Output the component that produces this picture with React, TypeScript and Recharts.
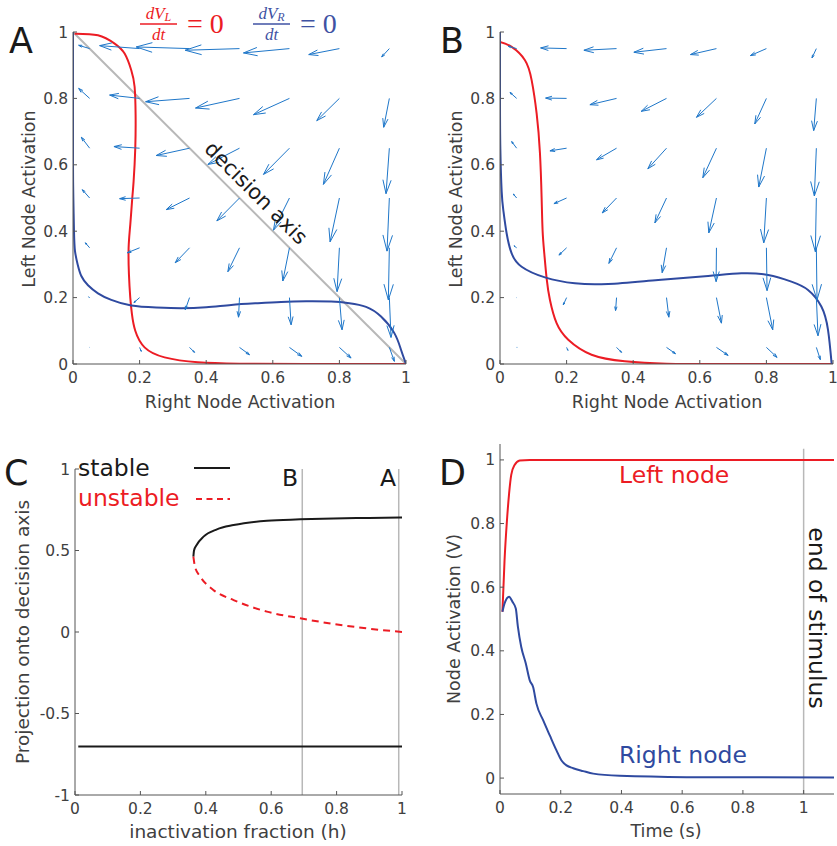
import React from "react";
import { ComposedChart, Line, ReferenceLine, Scatter, XAxis, YAxis } from "recharts";

const RED = "#ec1c24";
const BLUE = "#2f4aa0";
const QUIVER = "#1f77c9";
const GREY = "#b8b8b8";
const AXIS = "#555555";
const TICK = "#404040";
const INK = "#1a1a1a";
const FONT = "DejaVu Sans";

// ---- data ----
const UNIT_TICKS = [0, 0.2, 0.4, 0.6, 0.8, 1];
const C_Y_TICKS = [-1, -0.5, 0, 0.5, 1];

// quiver grid: columns (right node) and rows (left node, top to bottom)
const QUIVER_COLS = [0.05, 0.2, 0.35, 0.5, 0.65, 0.8, 0.95];
const QUIVER_ROWS = [0.95, 0.8, 0.65, 0.5, 0.35, 0.2, 0.05];

const A_U = [
  [-0.033, -0.12, -0.16, -0.163, -0.138, -0.092, -0.023],
  [-0.033, -0.09, -0.132, -0.132, -0.108, -0.068, -0.017],
  [-0.025, -0.077, -0.1, -0.095, -0.078, -0.048, -0.01],
  [-0.022, -0.06, -0.07, -0.068, -0.048, -0.028, -0.007],
  [-0.013, -0.037, -0.043, -0.035, -0.02, -0.007, -0.003],
  [-0.003, -0.017, -0.013, -0.003, 0.005, 0.008, 0.005],
  [0.001, 0.005, 0.015, 0.03, 0.037, 0.035, 0.015],
];
const A_V = [
  [0.01, 0.009, 0.005, -0.005, -0.013, -0.018, -0.025],
  [0.03, 0.01, -0.01, -0.029, -0.049, -0.067, -0.087],
  [0.033, 0.005, -0.022, -0.049, -0.079, -0.109, -0.137],
  [0.025, -0.002, -0.035, -0.069, -0.097, -0.132, -0.16],
  [0.015, -0.015, -0.045, -0.072, -0.1, -0.132, -0.157],
  [0.002, -0.015, -0.037, -0.059, -0.082, -0.097, -0.12],
  [0.0, -0.012, -0.015, -0.022, -0.027, -0.032, -0.042],
];

const B_U = [
  [-0.025, -0.078, -0.098, -0.098, -0.078, -0.048, -0.013],
  [-0.02, -0.063, -0.08, -0.076, -0.06, -0.035, -0.008],
  [-0.015, -0.05, -0.06, -0.056, -0.041, -0.023, -0.006],
  [-0.01, -0.038, -0.043, -0.035, -0.023, -0.008, -0.003],
  [-0.008, -0.023, -0.023, -0.013, -0.001, 0.002, 0.002],
  [0.001, -0.01, -0.003, 0.007, 0.015, 0.019, 0.005],
  [0.002, 0.004, 0.015, 0.027, 0.035, 0.032, 0.012],
];
const B_V = [
  [0.007, 0.002, -0.005, -0.011, -0.018, -0.021, -0.028],
  [0.018, 0.001, -0.019, -0.039, -0.057, -0.077, -0.097],
  [0.02, -0.008, -0.035, -0.062, -0.089, -0.117, -0.144],
  [0.012, -0.017, -0.045, -0.075, -0.105, -0.135, -0.162],
  [0.006, -0.022, -0.047, -0.075, -0.102, -0.129, -0.157],
  [0.0, -0.022, -0.039, -0.059, -0.077, -0.097, -0.115],
  [0.0, -0.009, -0.015, -0.019, -0.024, -0.03, -0.037],
];

// nullclines [right, left]
const A_RED_NULLCLINE = [
  [0.005, 0.995], [0.075, 0.99], [0.125, 0.965], [0.155, 0.935], [0.175, 0.885],
  [0.185, 0.835], [0.188, 0.75], [0.187, 0.65], [0.182, 0.55], [0.178, 0.5],
  [0.172, 0.42], [0.167, 0.35], [0.168, 0.27], [0.172, 0.2], [0.177, 0.15],
  [0.187, 0.1], [0.215, 0.05], [0.275, 0.02], [0.375, 0.005], [0.5, 0.001],
  [0.7, 0], [1, 0],
];
const A_BLUE_NULLCLINE = [
  [0, 1], [0, 0.8], [0, 0.6], [0.001, 0.5], [0.003, 0.4], [0.006, 0.34],
  [0.014, 0.3], [0.025, 0.265], [0.045, 0.237], [0.075, 0.213], [0.115, 0.193],
  [0.175, 0.176], [0.25, 0.17], [0.325, 0.168], [0.4, 0.171], [0.475, 0.178],
  [0.55, 0.183], [0.625, 0.187], [0.7, 0.189], [0.775, 0.188], [0.83, 0.183],
  [0.88, 0.172], [0.925, 0.143], [0.965, 0.093], [0.985, 0.043], [1, 0],
];
const B_RED_NULLCLINE = [
  [0, 0.97], [0.035, 0.955], [0.075, 0.915], [0.095, 0.855], [0.11, 0.755],
  [0.12, 0.635], [0.125, 0.5], [0.128, 0.4], [0.133, 0.333], [0.14, 0.258],
  [0.15, 0.193], [0.17, 0.123], [0.205, 0.073], [0.275, 0.028], [0.375, 0.008],
  [0.5, 0.001], [0.7, 0], [1, 0],
];
const B_BLUE_NULLCLINE = [
  [0, 1], [0, 0.8], [0.001, 0.65], [0.005, 0.52], [0.01, 0.463], [0.02, 0.393],
  [0.035, 0.333], [0.065, 0.293], [0.135, 0.261], [0.225, 0.243], [0.325, 0.241],
  [0.475, 0.253], [0.625, 0.265], [0.725, 0.273], [0.805, 0.268], [0.875, 0.248],
  [0.925, 0.223], [0.965, 0.173], [0.985, 0.103], [0.996, 0],
];
const DECISION_AXIS = [[0, 1], [1, 0]];

// bifurcation diagram [h, projection]
const C_STABLE_UPPER = [
  [0.362, 0.462], [0.364, 0.5], [0.372, 0.534], [0.393, 0.585], [0.434, 0.63],
  [0.485, 0.656], [0.587, 0.683], [0.689, 0.691], [0.791, 0.697], [0.9, 0.7], [1, 0.703],
];
const C_UNSTABLE = [
  [0.362, 0.462], [0.367, 0.4], [0.383, 0.34], [0.423, 0.258], [0.485, 0.196],
  [0.587, 0.125], [0.689, 0.084], [0.791, 0.049], [0.893, 0.022], [1, 0],
];
const C_STABLE_LOWER = [[0.01, -0.703], [1, -0.703]];
const C_MARKERS = [0.695, 0.99];

// time course [t, V]
const D_LEFT = [
  [0.008, 0.523], [0.015, 0.685], [0.023, 0.811], [0.03, 0.895], [0.037, 0.953],
  [0.048, 0.984], [0.065, 0.998], [0.098, 1.0], [0.3, 1.0], [0.6, 1.0], [1.1, 1.0],
];
const D_RIGHT = [
  [0.008, 0.523], [0.015, 0.549], [0.03, 0.57], [0.041, 0.554], [0.052, 0.533],
  [0.059, 0.475], [0.07, 0.412], [0.085, 0.36], [0.098, 0.307], [0.109, 0.286],
  [0.12, 0.234], [0.142, 0.182], [0.164, 0.134], [0.186, 0.087], [0.202, 0.056],
  [0.219, 0.04], [0.241, 0.031], [0.274, 0.022], [0.307, 0.014], [0.394, 0.007],
  [0.614, 0.003], [1.1, 0.002],
];
const D_STIMULUS_END = 1;

const pts = (arr: number[][]) => arr.map(([x, y]) => ({ x, y }));

const buildQuiver = (U: number[][], V: number[][]) =>
  QUIVER_ROWS.flatMap((y, i) =>
    QUIVER_COLS.map((x, j) => [
      { x, y, u: U[i][j], v: V[i][j], head: false },
      { x: x + U[i][j], y: y + V[i][j], u: U[i][j], v: V[i][j], head: true },
    ])
  );

// pixels per data unit in the phase planes (used only for the arrow heads)
const PX = 333;

function ArrowTip(props: any) {
  const { cx, cy, payload } = props;
  if (!payload || !payload.head) return <g />;
  const dx = payload.u * PX;
  const dy = -payload.v * PX;
  const len = Math.hypot(dx, dy);
  if (len < 1) return <g />;
  const ux = dx / len;
  const uy = dy / len;
  const h = len * 0.3;
  const w = h * 0.3;
  const bx = cx - ux * h;
  const by = cy - uy * h;
  return (
    <path
      d={`M${bx - uy * w},${by + ux * w}L${cx},${cy}L${bx + uy * w},${by - ux * w}`}
      fill="none"
      stroke={QUIVER}
      strokeWidth={1}
    />
  );
}

const tickStyle = { fontSize: 15.5, fill: TICK, fontFamily: FONT };

function xAxisProps(height: number, domain: number[], ticks: number[]) {
  return {
    type: "number" as const,
    dataKey: "x",
    domain,
    ticks,
    interval: 0 as const,
    height,
    allowDataOverflow: true,
    axisLine: { stroke: AXIS },
    tickLine: { stroke: AXIS },
    tickSize: -4,
    tickMargin: 12,
    tick: tickStyle,
  };
}

function yAxisProps(width: number, domain: number[], ticks: number[]) {
  return {
    type: "number" as const,
    dataKey: "y",
    domain,
    ticks,
    interval: 0 as const,
    width,
    allowDataOverflow: true,
    axisLine: { stroke: AXIS },
    tickLine: { stroke: AXIS },
    tickSize: -4,
    tickMargin: 9,
    tick: tickStyle,
  };
}

function PhasePlane({
  width,
  yWidth,
  right,
  U,
  V,
  red,
  blue,
  diagonal,
}: {
  width: number;
  yWidth: number;
  right: number;
  U: number[][];
  V: number[][];
  red: number[][];
  blue: number[][];
  diagonal: boolean;
}) {
  const arrows = buildQuiver(U, V);
  return (
    <ComposedChart width={width} height={420} margin={{ top: 32, right, bottom: 0, left: 0 }}>
      <XAxis {...xAxisProps(56, [0, 1], UNIT_TICKS)} />
      <YAxis {...yAxisProps(yWidth, [0, 1], UNIT_TICKS)} />
      {diagonal && (
        <Line
          data={pts(DECISION_AXIS)}
          dataKey="y"
          type="linear"
          stroke={GREY}
          strokeWidth={2}
          dot={false}
          isAnimationActive={false}
        />
      )}
      {arrows.map((a, k) => (
        <Scatter
          key={k}
          data={a}
          fill={QUIVER}
          line={{ stroke: QUIVER, strokeWidth: 1 }}
          shape={ArrowTip}
          isAnimationActive={false}
        />
      ))}
      <Line
        data={pts(red)}
        dataKey="y"
        type="natural"
        stroke={RED}
        strokeWidth={2}
        dot={false}
        isAnimationActive={false}
      />
      <Line
        data={pts(blue)}
        dataKey="y"
        type="natural"
        stroke={BLUE}
        strokeWidth={2}
        dot={false}
        isAnimationActive={false}
      />
    </ComposedChart>
  );
}

function Bifurcation() {
  return (
    <ComposedChart width={420} height={426} margin={{ top: 49, right: 18, bottom: 0, left: 0 }}>
      <XAxis {...xAxisProps(51, [0, 1], UNIT_TICKS)} />
      <YAxis {...yAxisProps(75, [-1, 1], C_Y_TICKS)} />
      {C_MARKERS.map((m) => (
        <ReferenceLine key={m} x={m} stroke={GREY} strokeWidth={1.5} />
      ))}
      <Line data={pts(C_STABLE_UPPER)} dataKey="y" type="monotone" stroke={INK} strokeWidth={2} dot={false} isAnimationActive={false} />
      <Line
        data={pts(C_UNSTABLE)}
        dataKey="y"
        type="monotone"
        stroke={RED}
        strokeWidth={2}
        strokeDasharray="7 5"
        dot={false}
        isAnimationActive={false}
      />
      <Line data={pts(C_STABLE_LOWER)} dataKey="y" type="linear" stroke={INK} strokeWidth={2} dot={false} isAnimationActive={false} />
    </ComposedChart>
  );
}

function TimeCourse() {
  return (
    <ComposedChart width={417} height={426} margin={{ top: 24, right: 3, bottom: 0, left: 0 }}>
      <XAxis {...xAxisProps(52, [0, 1.1], UNIT_TICKS)} />
      <YAxis {...yAxisProps(80, [-0.05, 1.05], UNIT_TICKS)} />
      <ReferenceLine
        segment={[
          { x: D_STIMULUS_END, y: -0.05 },
          { x: D_STIMULUS_END, y: 1.035 },
        ]}
        stroke={GREY}
        strokeWidth={1.5}
      />
      <Line data={pts(D_LEFT)} dataKey="y" type="monotone" stroke={RED} strokeWidth={2} dot={false} isAnimationActive={false} />
      <Line data={pts(D_RIGHT)} dataKey="y" type="monotone" stroke={BLUE} strokeWidth={2} dot={false} isAnimationActive={false} />
    </ComposedChart>
  );
}

function Fraction({ cx, sub, color, eqX }: { cx: number; sub: string; color: string; eqX: number }) {
  return (
    <g fill={color} fontFamily="Liberation Serif">
      <text x={cx} y={19} textAnchor="middle" fontStyle="italic" fontSize={17}>
        dV<tspan fontSize={12} dy={2}>{sub}</tspan>
      </text>
      <line x1={cx - 18.5} x2={cx + 18.5} y1={24} y2={24} stroke={color} strokeWidth={1.7} />
      <text x={cx} y={39.5} textAnchor="middle" fontStyle="italic" fontSize={17}>
        dt
      </text>
      <text x={eqX} y={33} fontSize={28}>
        = 0
      </text>
    </g>
  );
}

function Overlay() {
  const letter = { fontSize: 35, fill: INK, fontFamily: FONT };
  const label = { fontSize: 17.5, fill: TICK, fontFamily: FONT, textAnchor: "middle" as const };
  const note = { fontSize: 23.5, fontFamily: FONT };
  return (
    <svg
      width={837}
      height={846}
      style={{ position: "absolute", left: 0, top: 0, pointerEvents: "none" }}
    >
      <text x={9} y={53} {...letter}>A</text>
      <text x={440} y={53} {...letter}>B</text>
      <text x={4} y={485} {...letter}>C</text>
      <text x={439} y={485} {...letter}>D</text>

      <Fraction cx={158.5} sub="L" color={RED} eqX={187} />
      <Fraction cx={271.5} sub="R" color="#3f52a3" eqX={300} />

      <text transform="translate(256,193) rotate(45)" textAnchor="middle" dy={7} fontSize={21} fill={INK} fontFamily={FONT}>
        decision axis
      </text>

      <text x={240} y={408} {...label}>Right Node Activation</text>
      <text x={667} y={408} {...label}>Right Node Activation</text>
      <text transform="translate(35,199) rotate(-90)" {...label}>Left Node Activation</text>
      <text transform="translate(462,199) rotate(-90)" {...label}>Left Node Activation</text>
      <text x={238} y={838} {...label} fontSize={18.5}>inactivation fraction (h)</text>
      <text transform="translate(29,632) rotate(-90)" {...label} fontSize={18.5}>Projection onto decision axis</text>
      <text x={666} y={837} {...label}>Time (s)</text>
      <text transform="translate(460,619) rotate(-90)" {...label}>Node Activation (V)</text>

      <text x={78} y={476} {...note} fill={INK}>stable</text>
      <line x1={194} x2={230} y1={468} y2={468} stroke={INK} strokeWidth={2} />
      <text x={78} y={506} {...note} fill={RED}>unstable</text>
      <line x1={196} x2={230} y1={499} y2={499} stroke={RED} strokeWidth={2} strokeDasharray="6 4.5" />
      <text x={298} y={486} {...note} fill={INK} textAnchor="end">B</text>
      <text x={396} y={486} {...note} fill={INK} textAnchor="end">A</text>

      <text x={619} y={483} {...note} fill={RED}>Left node</text>
      <text x={619} y={763} {...note} fill={BLUE}>Right node</text>
      <text transform="translate(809,618) rotate(90)" textAnchor="middle" {...note} fill={INK}>
        end of stimulus
      </text>
    </svg>
  );
}

export default function App() {
  return (
    <div style={{ position: "absolute", left: 0, top: 0, width: 837, height: 846, background: "#fff", overflow: "hidden" }}>
      <div style={{ position: "absolute", left: 0, top: 0 }}>
        <PhasePlane width={420} yWidth={73} right={14} U={A_U} V={A_V} red={A_RED_NULLCLINE} blue={A_BLUE_NULLCLINE} diagonal />
      </div>
      <div style={{ position: "absolute", left: 420, top: 0 }}>
        <PhasePlane width={417} yWidth={80} right={4} U={B_U} V={B_V} red={B_RED_NULLCLINE} blue={B_BLUE_NULLCLINE} diagonal={false} />
      </div>
      <div style={{ position: "absolute", left: 0, top: 420 }}>
        <Bifurcation />
      </div>
      <div style={{ position: "absolute", left: 420, top: 420 }}>
        <TimeCourse />
      </div>
      <Overlay />
    </div>
  );
}
